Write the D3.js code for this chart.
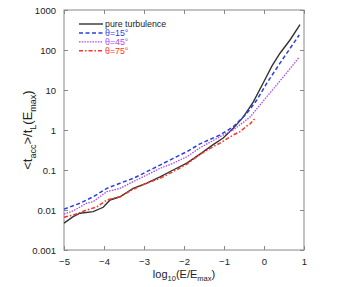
<!DOCTYPE html>
<html>
<head>
<meta charset="utf-8">
<script src="https://cdn.jsdelivr.net/npm/d3@7"></script>
<style>
  body { margin: 0; background: #fff; }
  text { font-family: "Liberation Sans", Arial, sans-serif; }
</style>
</head>
<body>
<svg width="350" height="287"></svg>
<script>
// log10(E/Emax) positions and <t_acc>/t_L values
var xPure  = [-5, -4.77, -4.6, -4.27, -4.02, -3.85, -3.6, -3.27, -2.93, -2.6, -2.27, -1.93, -1.6, -1.27, -1.02, -0.77, -0.52, -0.27, -0.02, 0.2, 0.4, 0.65, 0.9];
var yPure  = [0.0047, 0.0068, 0.0083, 0.0091, 0.0117, 0.0178, 0.0214, 0.0347, 0.0468, 0.0676, 0.1, 0.148, 0.25, 0.43, 0.63, 1.1, 2.1, 5.0, 15, 40, 83, 178, 430];
var x15    = [-5, -4.6, -4.27, -3.93, -3.6, -3.27, -2.93, -2.6, -2.27, -1.93, -1.6, -1.1, -0.77, -0.43, -0.18, 0.07, 0.4, 0.88];
var y15    = [0.0105, 0.0148, 0.0214, 0.0347, 0.0468, 0.0617, 0.091, 0.133, 0.195, 0.288, 0.45, 0.75, 1.2, 2.6, 5.6, 14.8, 47, 237];
var x45    = [-5, -4.77, -4.43, -4.27, -3.93, -3.6, -3.27, -2.93, -2.6, -2.27, -1.93, -1.6, -1.1, -0.77, -0.35, 0.07, 0.48, 0.88];
var y45    = [0.0079, 0.0095, 0.0148, 0.0162, 0.0288, 0.0347, 0.0513, 0.075, 0.11, 0.148, 0.214, 0.36, 0.68, 1.0, 2.1, 6.8, 21, 66];
var x75    = [-5, -4.77, -4.43, -4.18, -3.93, -3.6, -3.27, -2.93, -2.6, -2.27, -1.93, -1.6, -1.35, -1.1, -0.77, -0.6, -0.43, -0.35, -0.225];
var y75    = [0.0066, 0.0075, 0.01, 0.012, 0.0178, 0.0214, 0.033, 0.047, 0.062, 0.091, 0.141, 0.245, 0.347, 0.47, 0.75, 0.91, 1.26, 1.41, 1.95];
var xTicks = [-5, -4, -3, -2, -1, 0, 1];
var yTicks = [0.001, 0.01, 0.1, 1, 10, 100, 1000];
var yTickLabels = ["0.001", "0.01", "0.1", "1", "10", "100", "1000"];
var names  = ["pure turbulence", "\u03b8=15\u00b0", "\u03b8=45\u00b0", "\u03b8=75\u00b0"];

var margin = {top: 10, right: 46, bottom: 37, left: 64};
var width = 350 - margin.left - margin.right,
    height = 287 - margin.top - margin.bottom;

var svg = d3.select("svg");
var g = svg.append("g").attr("transform", "translate(" + margin.left + "," + margin.top + ")");

var x = d3.scaleLinear().domain([-5, 1]).range([0, width]);
var y = d3.scaleLog().domain([0.001, 1000]).range([height, 0]);

var series = [
  {xs: xPure, ys: yPure, color: "#333333", dash: null, w: 1.4},
  {xs: x15, ys: y15, color: "#2a3fe0", dash: "4,2.5", w: 1.5},
  {xs: x45, ys: y45, color: "#a64cf0", dash: "1.5,1.2", w: 1.3},
  {xs: x75, ys: y75, color: "#ff3322", dash: "4,2,1.5,2", w: 1.5}
];

var line = d3.line()
  .x(function(d) { return x(d[0]); })
  .y(function(d) { return y(d[1]); });

// axes, ticks inward on all four sides
var axisColor = "#888";
function styleAxis(sel) {
  sel.select(".domain").remove();
  sel.selectAll("line").attr("stroke", axisColor);
  sel.selectAll("text").attr("fill", "#222").style("font-size", "9.5px");
}
g.append("g").attr("transform", "translate(0," + height + ")")
  .call(d3.axisBottom(x).tickValues(xTicks).tickSize(-4).tickPadding(8).tickFormat(d3.format("d")))
  .call(styleAxis);
g.append("g")
  .call(d3.axisTop(x).tickValues(xTicks).tickSize(-4).tickFormat(""))
  .call(styleAxis);
g.append("g")
  .call(d3.axisLeft(y).tickValues(yTicks).tickSize(-4).tickPadding(8)
    .tickFormat(function(d, i) { return yTickLabels[i]; }))
  .call(styleAxis);
g.append("g").attr("transform", "translate(" + width + ",0)")
  .call(d3.axisRight(y).tickValues(yTicks).tickSize(-4).tickFormat(""))
  .call(styleAxis);

g.append("rect")
  .attr("width", width).attr("height", height)
  .attr("fill", "none").attr("stroke", axisColor).attr("stroke-width", 1);

series.forEach(function(s) {
  g.append("path")
    .datum(d3.zip(s.xs, s.ys))
    .attr("fill", "none")
    .attr("stroke", s.color)
    .attr("stroke-width", s.w)
    .attr("stroke-dasharray", s.dash)
    .attr("d", line);
});

// legend
var legend = g.append("g").attr("transform", "translate(15,14)");
series.forEach(function(s, i) {
  var row = legend.append("g").attr("transform", "translate(0," + (i * 8.9) + ")");
  row.append("line").attr("x1", 0).attr("x2", 24).attr("y1", 0).attr("y2", 0)
    .attr("stroke", s.color).attr("stroke-width", s.w).attr("stroke-dasharray", s.dash);
  row.append("text").attr("x", 26).attr("y", 3)
    .style("font-size", "8.8px")
    .attr("fill", i === 0 ? "#222" : s.color)
    .text(names[i]);
});

// axis labels
var xl = svg.append("text")
  .attr("x", margin.left + width / 2).attr("y", 278)
  .attr("text-anchor", "middle").style("font-size", "11px").attr("fill", "#222");
xl.append("tspan").text("log");
xl.append("tspan").attr("dy", 3).style("font-size", "7.5px").text("10");
xl.append("tspan").attr("dy", -3).text("(E/E");
xl.append("tspan").attr("dy", 3).style("font-size", "7.5px").text("max");
xl.append("tspan").attr("dy", -3).text(")");

var yl = svg.append("text")
  .attr("transform", "translate(32," + (margin.top + height / 2) + ") rotate(-90)")
  .attr("text-anchor", "middle").style("font-size", "13px").attr("fill", "#222");
yl.append("tspan").text("<t");
yl.append("tspan").attr("dy", 3.5).style("font-size", "9px").text("acc");
yl.append("tspan").attr("dy", -3.5).text(">/t");
yl.append("tspan").attr("dy", 3.5).style("font-size", "9px").text("L");
yl.append("tspan").attr("dy", -3.5).text("(E");
yl.append("tspan").attr("dy", 3.5).style("font-size", "9px").text("max");
yl.append("tspan").attr("dy", -3.5).text(")");
</script>
</body>
</html>
